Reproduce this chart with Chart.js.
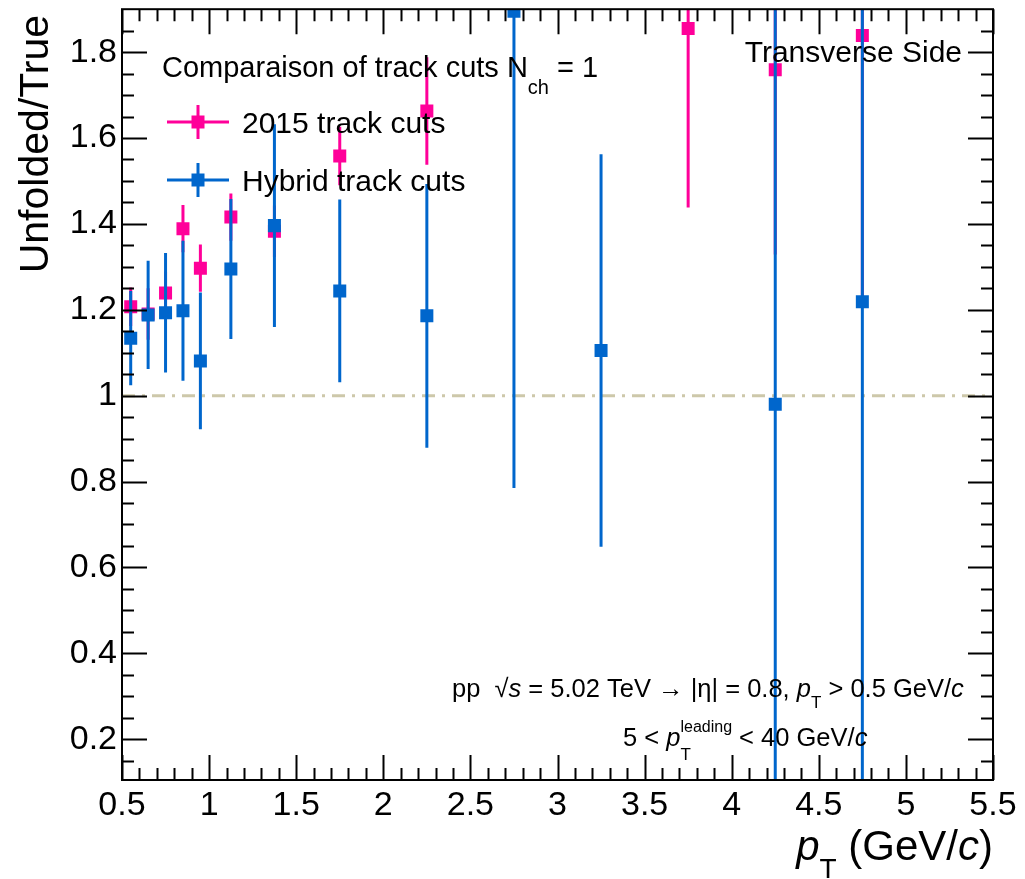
<!DOCTYPE html>
<html>
<head>
<meta charset="utf-8">
<script src="https://cdn.jsdelivr.net/npm/chart.js@4/dist/chart.umd.min.js"></script>
<style>
  html, body { margin: 0; padding: 0; background: #fff; }
</style>
</head>
<body>
<canvas id="ratioChart" width="1025" height="879"></canvas>
<script>
// bin centres in pT (GeV/c)
const ptBins = [0.55, 0.65, 0.75, 0.85, 0.95, 1.125, 1.375, 1.75, 2.25, 2.75, 3.25, 3.75, 4.25, 4.75];

// unfolded / true, 2015 track cuts
const cuts2015    = [1.207, 1.19, 1.239, 1.389, 1.297, 1.416, 1.383, 1.558, 1.663, null, null, 1.855, 1.759, 1.839];
const cuts2015Err = [0.045, 0.06, 0.05, 0.055, 0.055, 0.055, 0.06, 0.068, 0.125, null, null, 0.417, 0.43, 0.62];

// unfolded / true, hybrid track cuts
const hybrid    = [1.134, 1.188, 1.193, 1.198, 1.081, 1.295, 1.396, 1.244, 1.186, 1.895, 1.105, null, 0.98, 1.219];
const hybridErr = [0.11, 0.126, 0.139, 0.163, 0.159, 0.163, 0.236, 0.213, 0.307, 1.11, 0.457, null, 1.5, 1.5];

const xTicks = [0.5, 1, 1.5, 2, 2.5, 3, 3.5, 4, 4.5, 5, 5.5];
const yTicks = [0.2, 0.4, 0.6, 0.8, 1, 1.2, 1.4, 1.6, 1.8];
const seriesNames = ["2015 track cuts", "Hybrid track cuts"];

const PINK = "#ff0099";
const BLUE = "#0066cc";
const FONT = "'Liberation Sans', Arial, Helvetica, sans-serif";

function toPoints(vals, errs) {
    const pts = [];
    ptBins.forEach((x, i) => {
        if (vals[i] === null) return;
        pts.push({ x: x, y: vals[i], e: errs[i] });
    });
    return pts;
}

function fmt(v) {
    return String(Math.round(v * 100) / 100);
}

// vertical error bars, drawn just before each dataset's markers
const errorBars = {
    id: "errorBars",
    beforeDatasetDraw(chart, args) {
        const ds = chart.data.datasets[args.index];
        const ys = chart.scales.y;
        const area = chart.chartArea;
        const ctx = chart.ctx;
        ctx.save();
        ctx.beginPath();
        ctx.rect(area.left, area.top, area.right - area.left, area.bottom - area.top);
        ctx.clip();
        ctx.strokeStyle = ds.borderColor;
        ctx.lineWidth = 3;
        args.meta.data.forEach((pt, i) => {
            const raw = ds.data[i];
            const top = ys.getPixelForValue(raw.y + raw.e);
            const bot = ys.getPixelForValue(raw.y - raw.e);
            ctx.beginPath();
            ctx.moveTo(pt.x, top);
            ctx.lineTo(pt.x, bot);
            ctx.stroke();
        });
        ctx.restore();
    }
};

// dash-dot reference line at 1
const unityLine = {
    id: "unityLine",
    beforeDatasetsDraw(chart) {
        const ctx = chart.ctx;
        const area = chart.chartArea;
        const y = chart.scales.y.getPixelForValue(1);
        ctx.save();
        ctx.strokeStyle = "#cdc8aa";
        ctx.lineWidth = 3;
        ctx.setLineDash([13, 7, 3, 7]);
        ctx.beginPath();
        ctx.moveTo(area.left, y);
        ctx.lineTo(area.right, y);
        ctx.stroke();
        ctx.restore();
    }
};

// ROOT-like frame with ticks pointing inwards on all four sides
const rootFrame = {
    id: "rootFrame",
    afterDatasetsDraw(chart) {
        const ctx = chart.ctx;
        const a = chart.chartArea;
        const xs = chart.scales.x, ys = chart.scales.y;
        ctx.save();
        ctx.strokeStyle = "#000";
        ctx.lineWidth = 2;
        ctx.strokeRect(a.left, a.top, a.right - a.left, a.bottom - a.top);
        ctx.beginPath();
        for (let k = 0; k <= 50; k++) {
            const v = 0.5 + k * 0.1;
            const px = Math.round(xs.getPixelForValue(v)) + 0.5;
            const len = (k % 5 === 0) ? 25 : 12;
            ctx.moveTo(px, a.bottom); ctx.lineTo(px, a.bottom - len);
            ctx.moveTo(px, a.top); ctx.lineTo(px, a.top + len);
        }
        for (let k = 3; k <= 38; k++) {
            const v = k * 0.05;
            if (v < ys.min || v > ys.max) continue;
            const py = Math.round(ys.getPixelForValue(v)) + 0.5;
            const len = (k % 4 === 0) ? 25 : 12;
            ctx.moveTo(a.left, py); ctx.lineTo(a.left + len, py);
            ctx.moveTo(a.right, py); ctx.lineTo(a.right - len, py);
        }
        ctx.stroke();
        ctx.restore();
    }
};

// text runs with italics, sub- and superscripts
function drawRich(ctx, x, y, parts) {
    let cx = x;
    parts.forEach(p => {
        ctx.font = (p.italic ? "italic " : "") + p.size + "px " + FONT;
        ctx.fillText(p.t, cx, y + (p.dy || 0));
        const w = ctx.measureText(p.t).width;
        if (!p.noAdvance) cx += w;
    });
    return cx - x;
}
function richWidth(ctx, parts) {
    let w = 0;
    parts.forEach(p => {
        ctx.font = (p.italic ? "italic " : "") + p.size + "px " + FONT;
        if (!p.noAdvance) w += ctx.measureText(p.t).width;
    });
    return w;
}

const annotations = {
    id: "annotations",
    afterDraw(chart) {
        const ctx = chart.ctx;
        ctx.save();
        ctx.fillStyle = "#000";
        ctx.textBaseline = "alphabetic";
        ctx.textAlign = "left";

        // y title
        ctx.save();
        ctx.translate(48, 15);
        ctx.rotate(-Math.PI / 2);
        ctx.textAlign = "right";
        ctx.font = "41px " + FONT;
        ctx.fillText("Unfolded/True", 0, 0);
        ctx.restore();

        // x title, right aligned to the frame
        const xTitle = [
            { t: "p", size: 42, italic: true },
            { t: "T", size: 28, dy: 18 },
            { t: " (GeV/", size: 42 },
            { t: "c", size: 42, italic: true },
            { t: ")", size: 42 }
        ];
        drawRich(ctx, 993 - richWidth(ctx, xTitle), 860, xTitle);

        // legend header
        drawRich(ctx, 162, 77, [
            { t: "Comparaison of track cuts N", size: 29 },
            { t: "ch", size: 20, dy: 17 },
            { t: " = 1", size: 29 }
        ]);

        // legend entries
        const entries = [
            { name: seriesNames[0], color: PINK, y: 122 },
            { name: seriesNames[1], color: BLUE, y: 180 }
        ];
        entries.forEach(en => {
            ctx.strokeStyle = en.color;
            ctx.fillStyle = en.color;
            ctx.lineWidth = 3;
            ctx.beginPath();
            ctx.moveTo(167, en.y); ctx.lineTo(229, en.y);
            ctx.moveTo(198, en.y - 17); ctx.lineTo(198, en.y + 17);
            ctx.stroke();
            ctx.fillRect(198 - 6.5, en.y - 6.5, 13, 13);
            ctx.fillStyle = "#000";
            ctx.font = "30px " + FONT;
            ctx.fillText(en.name, 242, en.y + 11);
        });

        // top right label
        ctx.textAlign = "right";
        ctx.font = "30px " + FONT;
        ctx.fillText("Transverse Side", 962, 62);
        ctx.textAlign = "left";

        // collision system and cuts
        drawRich(ctx, 452, 697, [
            { t: "pp  \u221A", size: 25.5 },
            { t: "s", size: 25.5, italic: true },
            { t: " = 5.02 TeV \u2192 |\u03B7| = 0.8, ", size: 25.5 },
            { t: "p", size: 25.5, italic: true },
            { t: "T", size: 17, dy: 11 },
            { t: " > 0.5 GeV/", size: 25.5 },
            { t: "c", size: 25.5, italic: true }
        ]);
        drawRich(ctx, 623, 746, [
            { t: "5 < ", size: 25.5 },
            { t: "p", size: 25.5, italic: true },
            { t: "T", size: 17, dy: 14, noAdvance: true },
            { t: "leading", size: 16, dy: -14 },
            { t: " < 40 GeV/", size: 25.5 },
            { t: "c", size: 25.5, italic: true }
        ]);
        ctx.restore();
    }
};

const ctx = document.getElementById("ratioChart");
new Chart(ctx, {
    type: "scatter",
    data: {
        datasets: [
            {
                label: seriesNames[0],
                data: toPoints(cuts2015, cuts2015Err),
                backgroundColor: PINK,
                borderColor: PINK,
                pointStyle: "rect",
                pointRadius: 9.2,
                pointBorderWidth: 0,
                order: 2,
                clip: 0
            },
            {
                label: seriesNames[1],
                data: toPoints(hybrid, hybridErr),
                backgroundColor: BLUE,
                borderColor: BLUE,
                pointStyle: "rect",
                pointRadius: 9.2,
                pointBorderWidth: 0,
                order: 1,
                clip: 0
            }
        ]
    },
    options: {
        responsive: false,
        animation: false,
        devicePixelRatio: 1,
        layout: { padding: { top: 8, right: 32, left: 0, bottom: 0 } },
        plugins: {
            legend: { display: false },
            tooltip: { enabled: false }
        },
        scales: {
            x: {
                type: "linear",
                min: 0.5,
                max: 5.5,
                grid: { display: false, drawTicks: false },
                border: { display: false },
                afterBuildTicks: s => { s.ticks = xTicks.map(v => ({ value: v })); },
                afterFit: s => { s.height = 99; s.paddingLeft = 0; s.paddingRight = 0; },
                ticks: {
                    font: { family: FONT, size: 34 },
                    color: "#000",
                    padding: 5,
                    maxRotation: 0,
                    autoSkip: false,
                    callback: v => fmt(v)
                }
            },
            y: {
                type: "linear",
                min: 0.105,
                max: 1.9,
                grid: { display: false, drawTicks: false },
                border: { display: false },
                afterBuildTicks: s => { s.ticks = yTicks.map(v => ({ value: v })); },
                afterFit: s => { s.width = 122; s.paddingTop = 0; s.paddingBottom = 0; },
                ticks: {
                    font: { family: FONT, size: 34 },
                    color: "#000",
                    padding: 5,
                    autoSkip: false,
                    callback: v => fmt(v)
                }
            }
        }
    },
    plugins: [unityLine, errorBars, rootFrame, annotations]
});
</script>
</body>
</html>
